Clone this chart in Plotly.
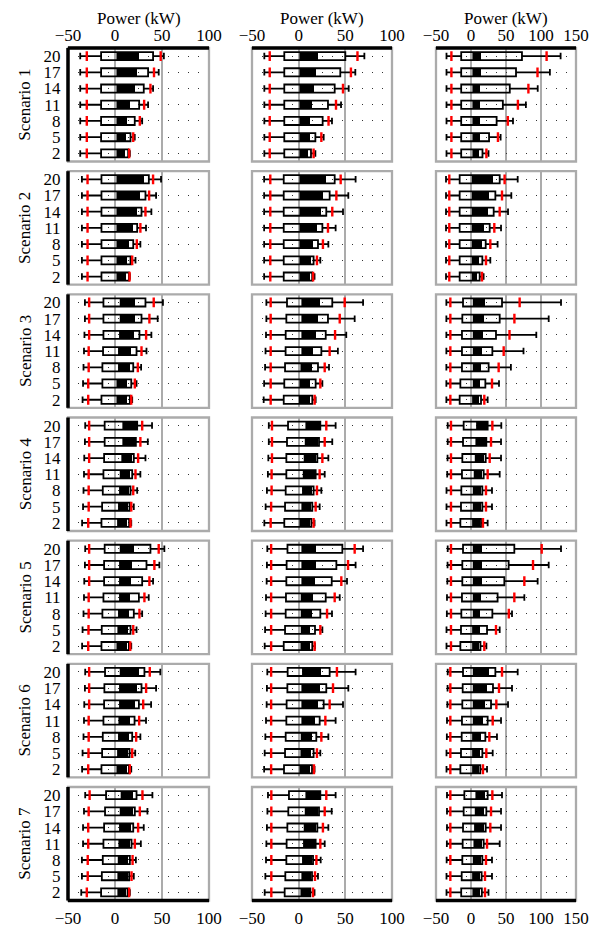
import plotly.graph_objects as go

# ---------------- data (rows bottom -> top) ----------------
ROWS = ["2", "5", "8", "11", "14", "17", "20"]
SCENARIOS = ["Scenario 1", "Scenario 2", "Scenario 3", "Scenario 4",
             "Scenario 5", "Scenario 6", "Scenario 7"]
X_TITLE = "Power (kW)"
X_RANGES = [[-50, 100], [-50, 100], [-50, 150]]
X_TICKS = [[-50, 0, 50, 100], [-50, 0, 50, 100], [-50, 0, 50, 100, 150]]

# Column 1 (one list per scenario, values for rows 2..20)
C1_LO = [[-37, -37, -37, -37, -37, -37, -37],
         [-35.2, -35.2, -35.2, -35.2, -35.2, -35.2, -35.2],
         [-34.5, -34, -33.5, -33, -32.5, -32, -32],
         [-35, -34, -33.5, -33, -32.7, -32, -31.7],
         [-35, -34.5, -33.5, -33, -32.7, -32, -31.7],
         [-35, -34.5, -33.5, -33, -32.7, -32, -31.7],
         [-35.9, -35.2, -35.2, -34, -34, -33, -31.7]]
C1_P5 = [[-30, -30, -30, -30, -30, -30, -30],
         [-29.2, -29.2, -29.2, -29.2, -29.2, -29.2, -29.2],
         [-28.5, -28.5, -28, -28, -27.5, -27.5, -27.5],
         [-28.5, -28, -28, -28, -27.5, -27.5, -27.5],
         [-28.5, -28.2, -28, -28, -27.5, -27.5, -27.5],
         [-28.5, -28.2, -28, -28, -27.5, -27.5, -27.5],
         [-30, -29, -29, -28.5, -28.5, -28, -27]]
C1_Q1 = [[-14.8, -14.8, -14.8, -14.8, -14.8, -14.8, -14.8],
         [-14.4, -14.4, -14.4, -14.4, -14.4, -14.4, -14.4],
         [-14.4, -13.4, -13.4, -12.7, -12.3, -12.3, -12.3],
         [-14.4, -13.7, -13, -12.3, -11.6, -11, -11],
         [-14.4, -14.1, -13.4, -12.3, -11.6, -11.6, -11],
         [-14.4, -13.7, -13, -12.3, -11.6, -11.3, -10.6],
         [-14.8, -14, -13, -12.3, -11.6, -10.6, -9.5]]
C1_B1 = [[2.5, 2.5, 2.5, 2.5, 2.5, 2.5, 2.5],
         [2.5, 2.5, 2.5, 2.5, 2.5, 2.5, 2.5],
         [2.5, 2.5, 4.2, 4.2, 5.3, 6, 6],
         [3.2, 4.2, 5.3, 6, 7.7, 8.8, 8.8],
         [2.5, 3.5, 4.2, 5.3, 5.3, 5.3, 6],
         [2.5, 3.2, 4.2, 4.6, 5.3, 5.3, 6],
         [3.5, 3.5, 3.9, 4.6, 5.3, 6, 7]]
C1_B2 = [[10.6, 11.6, 12.3, 15.8, 21, 23, 25.7],
         [11.3, 13, 14.8, 19.4, 23.6, 27, 30.6],
         [13, 13, 15.5, 16.5, 20, 21.5, 21.8],
         [13, 13.7, 14.8, 15.8, 18.3, 20.8, 22.9],
         [13, 14.1, 14.8, 15.8, 17.3, 18.3, 20],
         [13, 14.1, 14.8, 15.8, 20.8, 23.6, 25.4],
         [11.6, 13.4, 14, 15.8, 16.9, 18.7, 19.4]]
C1_Q3 = [[14, 16.5, 21, 25.7, 30.6, 35.2, 40.5],
         [14.8, 16.5, 19.4, 23.6, 28.2, 32.4, 36],
         [15.8, 17.3, 19.4, 22.9, 26, 28.2, 32.4],
         [15, 15.5, 16.5, 18.3, 20, 22.2, 23.6],
         [14.8, 16.5, 20, 25.4, 28.9, 33.5, 37.7],
         [14.8, 15.5, 18.3, 20.8, 25.4, 28.2, 31.3],
         [13.4, 15.1, 15.8, 17.6, 19.4, 21.1, 22.9]]
C1_P95 = [[15.1, 19.4, 26.4, 31, 37.7, 41.5, 48.6],
          [15.5, 18.3, 23.2, 27, 32.4, 36.3, 40.5],
          [17.3, 21.1, 24.3, 28.2, 33.1, 36.6, 41.2],
          [16.5, 17.3, 19.4, 21.8, 24.6, 27, 28.9],
          [16.2, 19.4, 26, 31.3, 36.6, 41.9, 46.5],
          [15.8, 18.3, 22.5, 25.7, 30, 33.1, 37],
          [15.1, 17.6, 18.7, 21.1, 24.6, 26.4, 29.2]]
C1_HI = [[15.8, 21, 28.9, 35.2, 40.5, 46.5, 52],
         [15.8, 21.8, 27, 33, 38.7, 43.7, 49],
         [18.3, 22.9, 27.8, 33.5, 38.7, 45.4, 51],
         [17.3, 20, 23.6, 27, 32.4, 34.9, 39.4],
         [17.3, 22.9, 28.9, 35.9, 40.5, 47.2, 52.5],
         [17.3, 21.5, 27, 33, 38.4, 43.7, 48.2],
         [15.8, 20, 22.2, 27.5, 30.6, 34.5, 39.8]]

# Column 2
C2_LO = [[-36.8, -36.8, -36.8, -36.8, -36.8, -36.8, -36.8],
         [-37, -37, -37, -37, -37, -37, -37],
         [-37.5, -37, -36, -35.5, -35, -34.6, -34.6],
         [-36.8, -35.4, -34, -33, -32.5, -32, -32],
         [-36.4, -36, -35.4, -35, -34.3, -34, -33.6],
         [-37, -36.4, -35.7, -35, -34.3, -34, -33.6],
         [-36.4, -35.7, -35, -34.6, -34, -33.5, -32.9]]
C2_P5 = [[-31, -31, -31, -31, -31, -31, -31],
         [-30.4, -30.4, -30.4, -30.4, -30.4, -30.4, -30.4],
         [-30, -30, -30, -30, -30, -30, -30],
         [-30, -29.5, -29, -29, -28.6, -28.6, -28.6],
         [-29.5, -29.5, -29.5, -29.5, -29.5, -29.5, -29.5],
         [-29.5, -29.5, -29.5, -29.5, -29.5, -29.5, -29.5],
         [-29.3, -29.3, -29.3, -29.3, -29.3, -29.3, -29.3]]
C2_Q1 = [[-15.4, -15.4, -15.4, -15.4, -15.4, -15.4, -15.4],
         [-16, -16, -16, -16, -16, -16, -16],
         [-16, -15.4, -14.6, -14, -13.9, -13.2, -12.5],
         [-15.4, -14.6, -13.9, -13.2, -13.2, -12.5, -11.4],
         [-16, -14.6, -13.9, -13.6, -13.2, -12.9, -12],
         [-15.7, -14.6, -13.9, -13.2, -12.9, -12.1, -11.8],
         [-15, -14.3, -13.2, -12.9, -12.1, -11.1, -10.4]]
C2_B1 = [[1.8, 1.8, 1.8, 1.8, 1.8, 1.8, 1.8],
         [1.8, 1.8, 1.8, 1.8, 1.8, 1.8, 1.8],
         [1.1, 1.8, 2.9, 3.9, 3.9, 3.9, 3.9],
         [1.8, 3.9, 4.6, 5.4, 6.4, 7.5, 8.2],
         [2.9, 3.2, 3.2, 3.2, 3.9, 3.9, 3.9],
         [1.8, 2.9, 3.2, 3.9, 3.9, 3.9, 4.6],
         [2.9, 3.9, 4.6, 5.7, 6.4, 7.5, 8.2]]
C2_B2 = [[10, 11.8, 12.5, 14.3, 16.8, 18.6, 20.7],
         [11.8, 13.6, 15.4, 19.6, 23.6, 26, 29.6],
         [12.5, 12.5, 14.3, 15.4, 18.2, 20.7, 22.5],
         [12.5, 13.6, 14.6, 17, 19, 21, 23.2],
         [12.5, 12.5, 13.9, 15.4, 17.1, 18.2, 18.2],
         [12.5, 13.6, 14.6, 17.1, 20.7, 22.5, 24.3],
         [11.8, 13.6, 14.3, 17.1, 19, 20.7, 23.2]]
C2_Q3 = [[13.2, 17.9, 25.7, 31.4, 38.6, 44.6, 50],
         [14.5, 16, 20.7, 25.4, 29.6, 33.2, 38.6],
         [14.6, 18.2, 20.7, 24.3, 29, 31.4, 36],
         [13.6, 14.6, 16, 18.2, 20, 21.8, 23.2],
         [14.6, 17.5, 23.2, 29, 35.4, 40.4, 46.8],
         [14.3, 16, 18.9, 22.5, 26.8, 29.6, 33.2],
         [12.5, 14.3, 15.4, 18.2, 20, 21.8, 23.2]]
C2_P95 = [[16, 24.3, 32, 40, 47.5, 56, 63],
          [15.5, 19.6, 26, 31.4, 36, 40.4, 45],
          [17.1, 23.2, 27.9, 33.2, 39, 44, 49.3],
          [16, 18.2, 19.6, 22.5, 25.4, 27.9, 29.6],
          [17.1, 23.2, 30.4, 38.6, 45.7, 52.9, 60],
          [16.4, 19.6, 24.3, 28.6, 33.2, 36.8, 41],
          [15.4, 17.5, 19, 23.2, 26, 27.9, 29.6]]
C2_HI = [[17.9, 26.8, 35.7, 45.4, 53.6, 60.7, 70.4],
         [17, 23.2, 31.8, 39.6, 47.5, 53.2, 61],
         [18.2, 25.4, 32.5, 42, 51, 60, 69],
         [17, 22.5, 24.3, 27.9, 31.8, 36, 39.6],
         [17.5, 25.4, 35.7, 44, 51.8, 61, 69],
         [17, 23.2, 31.8, 39.6, 47.5, 53.2, 61],
         [17, 20.7, 23.6, 27.9, 31.8, 35.4, 39.6]]

# Column 3
C3_LO = [[-35, -35, -35, -35, -35, -35, -35],
         [-35.7, -35.7, -35.7, -35.7, -35.7, -35.7, -35.7],
         [-35.2, -35.2, -35.2, -35.2, -35.2, -35.2, -35.2],
         [-35, -35, -35, -34, -33.5, -33.3, -33.3],
         [-35, -35, -34.5, -34.3, -33.8, -33.5, -33.3],
         [-35, -35, -34.5, -34.3, -33.8, -33.5, -33.3],
         [-35, -35, -34.8, -34.5, -34.3, -34.3, -34.3]]
C3_P5 = [[-28, -28, -28, -28, -28, -28, -28],
         [-31, -31, -31, -31, -31, -31, -31],
         [-29.5, -29.5, -29.5, -29.5, -29.5, -29.5, -29.5],
         [-28.6, -28.6, -28.6, -28.6, -28.6, -28.6, -28.6],
         [-28.6, -28.6, -28.6, -28.6, -28.6, -28.6, -28.6],
         [-29.5, -29.5, -29.5, -29.5, -29.5, -29.5, -29.5],
         [-29.5, -29.5, -29.5, -29.5, -29.5, -29.5, -29.5]]
C3_Q1 = [[-14, -14, -14, -14, -14, -14, -14],
         [-16.2, -16.2, -16.2, -16.2, -16.2, -16.2, -16.2],
         [-16.2, -15.2, -12.9, -12.9, -12.9, -12.4, -11.4],
         [-15.2, -14.3, -13.8, -12.9, -12.4, -11.4, -10.5],
         [-15.2, -14.3, -13.8, -12.9, -12.4, -12.4, -11.4],
         [-15.2, -14.3, -13.3, -12.9, -12.4, -11.9, -11.4],
         [-14, -13.3, -12.4, -11.9, -11.4, -10.5, -9.5]]
C3_B1 = [[3.3, 3.3, 3.3, 3.3, 3.3, 3.3, 3.3],
         [2.4, 2.4, 2.4, 2.4, 2.4, 2.4, 2.4],
         [2.9, 3.8, 3.8, 3.8, 3.8, 3.8, 3.8],
         [2.9, 3.8, 3.8, 5.2, 6.7, 7.6, 8.6],
         [2.9, 2.9, 3.8, 3.8, 3.8, 3.8, 3.8],
         [2.9, 2.9, 2.9, 3.8, 3.8, 3.8, 3.8],
         [3.3, 2.9, 3.8, 4.8, 5.7, 6.7, 7.6]]
C3_B2 = [[12, 13, 13, 13, 13, 14, 14],
         [8.6, 11.4, 15.7, 19, 23.8, 26, 31],
         [11.4, 12.4, 14.3, 15.7, 17, 19, 20.5],
         [12.4, 14.3, 14.3, 16.2, 19, 21, 22.9],
         [11, 12.4, 13.3, 14.3, 15.7, 15.7, 15.7],
         [11, 12.4, 14.3, 17.1, 20.5, 22.9, 25.2],
         [13, 13.3, 14.3, 16.2, 18.1, 19, 20.5]]
C3_Q3 = [[16.4, 25.8, 36.6, 45.5, 55.4, 64.3, 72.8],
         [12.4, 16.2, 21, 26.7, 32.4, 34.8, 41],
         [14.3, 20.5, 25.2, 30.5, 35.7, 41, 44.3],
         [14.3, 16.2, 16.2, 18.1, 21, 21.9, 23.8],
         [13.5, 22.9, 30.5, 38, 47.6, 53.8, 61.9],
         [13.3, 16.2, 20.5, 23.8, 28.6, 31.4, 34.8],
         [15.5, 15.2, 16.2, 18.1, 21, 21.9, 23.8]]
C3_P95 = [[22, 38.5, 52.6, 67, 82, 95, 108],
          [15.7, 21.4, 27.6, 33.3, 41, 44.3, 48],
          [19, 30, 39.5, 46.7, 55, 62, 69.5],
          [17.1, 21.4, 21.4, 23.8, 26.7, 28.6, 30.5],
          [19, 35.7, 54, 61.9, 76.2, 88.6, 101],
          [17.1, 21.9, 26.2, 31, 36.2, 40, 44.3],
          [20, 20, 21.4, 22.9, 27.6, 28.6, 30.5]]
C3_HI = [[25, 42.3, 60, 78.4, 95.3, 112.7, 128],
         [18, 27.6, 38, 42.9, 52.9, 57.6, 66.7],
         [23.8, 40, 57, 75, 93.3, 111, 128.6],
         [23.8, 30, 30, 41, 42.9, 42.9, 43.3],
         [22, 41, 58.6, 76.2, 95.2, 111, 128.6],
         [22.9, 31, 37.1, 42.9, 52.9, 58.6, 66.7],
         [25, 30, 30, 41, 42.9, 42.9, 44.3]]

COLS = [
    dict(lo=C1_LO, p5=C1_P5, q1=C1_Q1, b1=C1_B1, b2=C1_B2, q3=C1_Q3, p95=C1_P95, hi=C1_HI),
    dict(lo=C2_LO, p5=C2_P5, q1=C2_Q1, b1=C2_B1, b2=C2_B2, q3=C2_Q3, p95=C2_P95, hi=C2_HI),
    dict(lo=C3_LO, p5=C3_P5, q1=C3_Q1, b1=C3_B1, b2=C3_B2, q3=C3_Q3, p95=C3_P95, hi=C3_HI),
]

# ---------------- layout geometry (window pixels) ----------------
# the page body keeps its default 8px margin, so the figure is drawn 8px in
OFF = 8
W, H = 599 - OFF, 927 - OFF
COL_PX = [(68, 209), (252, 392), (436, 576)]
ROW_TOP0, ROW_PITCH, ROW_H = 48.0, 123.17, 113.5
GRAY = "#ababab"
FONT = "Liberation Serif"
FS = 17


def px_x(p):
    return (p - OFF) / W


def px_y(p):
    return 1 - (p - OFF) / H


fig = go.Figure()
layout = dict(width=W, height=H, margin=dict(l=0, r=0, t=0, b=0, autoexpand=False),
              paper_bgcolor="white", plot_bgcolor="white", showlegend=False,
              font=dict(family=FONT, size=FS, color="black"))
shapes, annotations = [], []

for r in range(7):
    top = ROW_TOP0 + r * ROW_PITCH
    ydom = [px_y(top + ROW_H), px_y(top)]
    for c in range(3):
        k = r * 3 + c + 1
        xs = "x" if k == 1 else f"x{k}"
        ys = "y" if k == 1 else f"y{k}"
        xd = [px_x(COL_PX[c][0]), px_x(COL_PX[c][1])]
        d = COLS[c]
        lo, p5, q1, b1 = d["lo"][r], d["p5"][r], d["q1"][r], d["b1"][r]
        b2, q3, p95, hi = d["b2"][r], d["q3"][r], d["p95"][r], d["hi"][r]

        # black inner bar
        fig.add_trace(go.Bar(
            y=ROWS, x=[e - s for s, e in zip(b1, b2)], base=b1, orientation="h",
            width=0.5, marker=dict(color="black", line=dict(width=0)),
            xaxis=xs, yaxis=ys, hoverinfo="skip"))
        # open box + whiskers
        fig.add_trace(go.Box(
            y=ROWS, q1=q1, median=b1, q3=q3, lowerfence=lo, upperfence=hi,
            orientation="h", width=0.5, whiskerwidth=0.8,
            fillcolor="rgba(0,0,0,0)", line=dict(color="black", width=1.8),
            boxpoints=False, xaxis=xs, yaxis=ys, hoverinfo="skip"))
        # red percentile ticks
        fig.add_trace(go.Scatter(
            y=ROWS + ROWS, x=p5 + p95, mode="markers",
            marker=dict(symbol="line-ns", size=7, color="red",
                        line=dict(color="red", width=2.4)),
            xaxis=xs, yaxis=ys, hoverinfo="skip"))

        show_x = r in (0, 6)
        layout["xaxis" if k == 1 else f"xaxis{k}"] = dict(
            domain=xd, anchor=ys, range=X_RANGES[c], tickmode="array",
            tickvals=X_TICKS[c], automargin=False,
            showticklabels=show_x, side="top" if r == 0 else "bottom",
            ticklabelstandoff=-3 if r == 0 else 0,
            showgrid=True, gridcolor=GRAY, gridwidth=2.3, zeroline=False,
            showline=False, ticks="outside", ticklen=2, tickcolor="rgba(0,0,0,0)",
            tickfont=dict(family=FONT, size=FS, color="black"), fixedrange=True)
        layout["yaxis" if k == 1 else f"yaxis{k}"] = dict(
            domain=ydom, anchor=xs, type="category", categoryorder="array",
            categoryarray=ROWS, range=[-0.5, 6.5], tickmode="array",
            tickvals=ROWS, ticktext=ROWS, automargin=False,
            showticklabels=(c == 0),
            showgrid=True, gridcolor="#333333", gridwidth=1, griddash="1px,9px",
            zeroline=False, showline=False, ticks="outside", ticklen=3,
            tickcolor="rgba(0,0,0,0)",
            tickfont=dict(family=FONT, size=FS, color="black"), fixedrange=True)

        xr, yr = f"{xs} domain", f"{ys} domain"
        shapes.append(dict(type="rect", xref=xr, yref=yr, x0=0, x1=1, y0=0, y1=1,
                           line=dict(color=GRAY, width=2.3)))
        if c == 0:
            shapes.append(dict(type="line", xref=xr, yref=yr, x0=0, x1=0, y0=0, y1=1,
                               line=dict(color="black", width=3.5)))
        if r == 0:
            shapes.append(dict(type="line", xref=xr, yref=yr, x0=0, x1=1, y0=1, y1=1,
                               line=dict(color="black", width=3.5)))
        if r == 6:
            shapes.append(dict(type="line", xref=xr, yref=yr, x0=0, x1=1, y0=0, y1=0,
                               line=dict(color="black", width=3.5)))
        if r == 0:
            annotations.append(dict(
                text=X_TITLE, xref="paper", yref="paper",
                x=px_x((COL_PX[c][0] + COL_PX[c][1]) / 2), y=px_y(19),
                showarrow=False, xanchor="center", yanchor="middle",
                font=dict(family=FONT, size=FS, color="black")))
    annotations.append(dict(
        text=SCENARIOS[r], xref="paper", yref="paper", x=px_x(25),
        y=px_y(top + ROW_H / 2), textangle=-90, showarrow=False,
        xanchor="center", yanchor="middle",
        font=dict(family=FONT, size=FS, color="black")))

layout["shapes"] = shapes
layout["annotations"] = annotations
layout["bargap"] = 0
fig.update_layout(**layout)
fig.write_html("out.html")
